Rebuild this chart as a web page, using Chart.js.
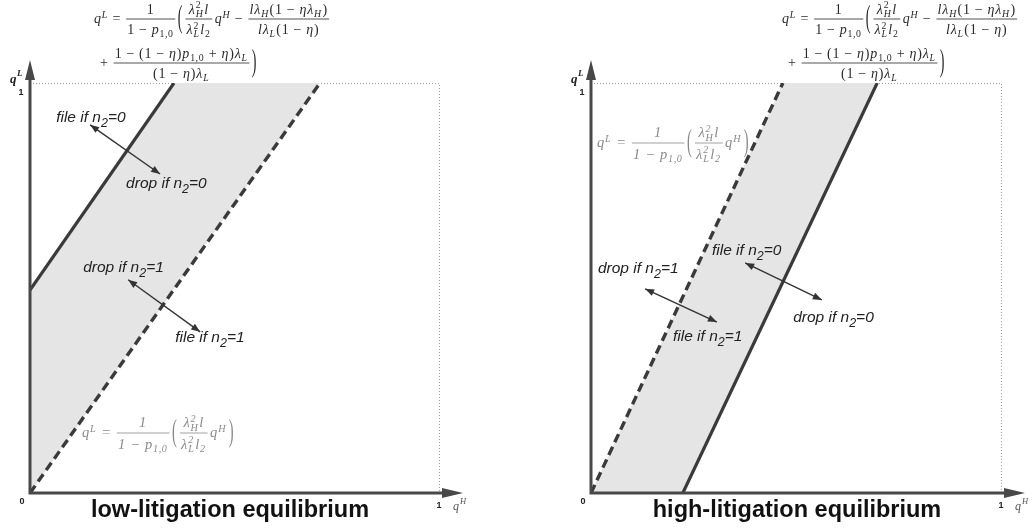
<!DOCTYPE html>
<html>
<head>
<meta charset="utf-8">
<script src="https://cdn.jsdelivr.net/npm/chart.js@4/dist/chart.umd.min.js"></script>
<style>
  body { margin: 0; background: #fff; }
  #wrap { display: flex; width: 1034px; height: 528px; }
  canvas { display: block; }
</style>
</head>
<body>
<div id="wrap">
  <canvas id="lowChart" width="517" height="528"></canvas>
  <canvas id="highChart" width="517" height="528"></canvas>
</div>
<script>
// valeurs (qH en x, qL en y)
const tickLabels = ['0', '1'];
const titles = ['low-litigation equilibrium', 'high-litigation equilibrium'];

const lowSolid = [{x: 0, y: 0.495}, {x: 0.352, y: 1}];
const lowDashed = [{x: 0, y: 0}, {x: 0.709, y: 1}];
const highDashed = [{x: 0, y: 0}, {x: 0.468, y: 1}];
const highSolid = [{x: 0.224, y: 0}, {x: 0.698, y: 1}];

const lowLabels = ['file if n_2=0', 'drop if n_2=0', 'drop if n_2=1', 'file if n_2=1'];
const highLabels = ['file if n_2=0', 'drop if n_2=1', 'drop if n_2=0', 'file if n_2=1'];

const LINE = '#3a3a3a';
const AXIS = '#484848';
const BAND = '#e5e5e5';
const SERIF = '"Liberation Serif", "DejaVu Serif", serif';
const SANS = '"Liberation Sans", Arial, sans-serif';

// ---- petit moteur de formules ----
function fnt(size, ital) {
    return (ital ? 'italic ' : '') + size + 'px ' + SERIF;
}

function glyphs(ctx, x, y, str, size, draw, allItal) {
    for (const c of str) {
        if (c === ' ') continue;
        const ital = allItal || /[A-Za-zλη]/.test(c);
        ctx.font = fnt(size, ital);
        const pad = (c === '=' || c === '−' || c === '+') ? size * 0.28 : 0;
        x += pad;
        if (draw) ctx.fillText(c, x, y);
        x += ctx.measureText(c).width + pad + size * 0.06;
    }
    return x;
}

function run(ctx, x, y, s, size, draw, allItal) {
    let i = 0;
    const grab = () => {
        let g;
        if (s[i] === '{') {
            const j = s.indexOf('}', i);
            g = s.slice(i + 1, j);
            i = j + 1;
        } else {
            g = s[i];
            i++;
        }
        return g;
    };
    while (i < s.length) {
        const c = s[i];
        if (c === '^' || c === '_') {
            const sc = {};
            while (i < s.length && (s[i] === '^' || s[i] === '_')) {
                const k = s[i];
                i++;
                sc[k] = grab();
            }
            let w = 0;
            if (sc['^'] != null) w = Math.max(w, glyphs(ctx, x, y - size * 0.38, sc['^'], size * 0.7, draw, allItal) - x);
            if (sc['_'] != null) w = Math.max(w, glyphs(ctx, x, y + size * 0.22, sc['_'], size * 0.7, draw, allItal) - x);
            x += w + size * 0.05;
            continue;
        }
        x = glyphs(ctx, x, y, c, size, draw, allItal);
        i++;
    }
    return x;
}

function frac(ctx, x, axis, num, den, size, allItal) {
    const wn = run(ctx, 0, 0, num, size, false, allItal);
    const wd = run(ctx, 0, 0, den, size, false, allItal);
    const w = Math.max(wn, wd) + size * 0.3;
    run(ctx, x + (w - wn) / 2, axis - size * 0.38, num, size, true, allItal);
    run(ctx, x + (w - wd) / 2, axis + size * 1.1, den, size, true, allItal);
    ctx.fillRect(x + 1, axis - 0.4, w - 2, 0.8);
    return x + w + size * 0.1;
}

function paren(ctx, x, axis, ch, size) {
    ctx.save();
    ctx.font = fnt(size, false);
    const w = ctx.measureText(ch).width;
    ctx.translate(x, axis);
    ctx.scale(1, 2.2);
    ctx.fillText(ch, 0, size * 0.25);
    ctx.restore();
    return x + w + size * 0.15;
}

function bigFormula(ctx, x0, axis, size) {
    ctx.fillStyle = '#2a2a2a';
    let x = run(ctx, x0, axis + size * 0.3, 'q^L=', size, true);
    x = frac(ctx, x, axis, '1', '1−p_{1,0}', size);
    x = paren(ctx, x, axis, '(', size);
    x = frac(ctx, x, axis, 'λ_H^2l', 'λ_L^2l_2', size);
    x = run(ctx, x, axis + size * 0.3, 'q^H−', size, true);
    frac(ctx, x, axis, 'lλ_H(1−ηλ_H)', 'lλ_L(1−η)', size);
    const a2 = axis + 44;
    x = run(ctx, x0 + 2, a2 + size * 0.3, '+', size, true);
    x = frac(ctx, x, a2, '1−(1−η)p_{1,0}+η)λ_L', '(1−η)λ_L', size);
    paren(ctx, x, a2, ')', size);
}

function grayFormula(ctx, x0, axis, size) {
    ctx.fillStyle = '#8a8a8a';
    let x = run(ctx, x0, axis + size * 0.3, 'q^L=', size, true, true);
    x = frac(ctx, x, axis, '1', '1−p_{1,0}', size, true);
    x = paren(ctx, x, axis, '(', size);
    x = frac(ctx, x, axis, 'λ_H^2l', 'λ_L^2l_2', size, true);
    x = run(ctx, x, axis + size * 0.3, 'q^H', size, true, true);
    paren(ctx, x + 2, axis, ')', size);
}

function arrow(ctx, x1, y1, x2, y2) {
    const a = Math.atan2(y2 - y1, x2 - x1);
    ctx.strokeStyle = '#333';
    ctx.fillStyle = '#333';
    ctx.lineWidth = 1.4;
    ctx.beginPath();
    ctx.moveTo(x1, y1);
    ctx.lineTo(x2, y2);
    ctx.stroke();
    [[x2, y2, a], [x1, y1, a + Math.PI]].forEach(([x, y, t]) => {
        ctx.beginPath();
        ctx.moveTo(x, y);
        ctx.lineTo(x - 9 * Math.cos(t) + 3.5 * Math.sin(t), y - 9 * Math.sin(t) - 3.5 * Math.cos(t));
        ctx.lineTo(x - 9 * Math.cos(t) - 3.5 * Math.sin(t), y - 9 * Math.sin(t) + 3.5 * Math.cos(t));
        ctx.closePath();
        ctx.fill();
    });
}

function label(ctx, x, y, txt) {
    const [pre, rest] = txt.split('_');
    ctx.fillStyle = '#222';
    ctx.font = 'italic 15.5px ' + SANS;
    ctx.fillText(pre, x, y);
    x += ctx.measureText(pre).width;
    ctx.font = 'italic 12.5px ' + SANS;
    ctx.fillText(rest[0], x, y + 5);
    x += ctx.measureText(rest[0]).width;
    ctx.font = 'italic 15.5px ' + SANS;
    ctx.fillText(rest.slice(1), x, y);
}

// ---- plugin de décor : axes fléchés, cadre pointillé, textes ----
const decor = {
    id: 'decor',
    beforeDatasetsDraw(chart) {
        const ctx = chart.ctx;
        const xs = chart.scales.x, ys = chart.scales.y;
        const l = xs.getPixelForValue(0), r = xs.getPixelForValue(1);
        const t = ys.getPixelForValue(1), b = ys.getPixelForValue(0);
        ctx.save();
        ctx.strokeStyle = '#a0a0a0';
        ctx.lineWidth = 1;
        ctx.setLineDash([1, 2]);
        ctx.beginPath();
        ctx.moveTo(l, t + 0.5);
        ctx.lineTo(r + 0.5, t + 0.5);
        ctx.lineTo(r + 0.5, b);
        ctx.stroke();
        ctx.restore();
    },
    afterDatasetsDraw(chart, args, opts) {
        const ctx = chart.ctx;
        const xs = chart.scales.x, ys = chart.scales.y;
        const l = xs.getPixelForValue(0), r = xs.getPixelForValue(1);
        const t = ys.getPixelForValue(1), b = ys.getPixelForValue(0);
        ctx.save();
        // axes
        ctx.strokeStyle = AXIS;
        ctx.fillStyle = AXIS;
        ctx.lineWidth = 3;
        ctx.beginPath();
        ctx.moveTo(l, b);
        ctx.lineTo(l, t - 8);
        ctx.moveTo(l - 1.5, b);
        ctx.lineTo(r + 8, b);
        ctx.stroke();
        ctx.beginPath();
        ctx.moveTo(l, t - 23);
        ctx.lineTo(l - 5, t - 3);
        ctx.lineTo(l + 5, t - 3);
        ctx.closePath();
        ctx.fill();
        ctx.beginPath();
        ctx.moveTo(r + 24, b);
        ctx.lineTo(r + 3, b - 5);
        ctx.lineTo(r + 3, b + 5);
        ctx.closePath();
        ctx.fill();

        // graduations
        ctx.fillStyle = '#222';
        ctx.font = 'bold 9px ' + SANS;
        ctx.textAlign = 'center';
        ctx.textBaseline = 'middle';
        ctx.fillText(tickLabels[0], l - 8, b + 9);
        ctx.fillText(tickLabels[1], l - 9, t + 10);
        ctx.fillText(tickLabels[1], r, b + 13);

        // noms des axes
        ctx.textAlign = 'left';
        ctx.textBaseline = 'alphabetic';
        ctx.font = 'bold italic 13px ' + SERIF;
        ctx.fillText('q', l - 20, t + 0);
        ctx.font = 'bold italic 9px ' + SERIF;
        ctx.fillText('L', l - 13, t - 7);
        ctx.fillStyle = '#555';
        ctx.font = 'italic 12px ' + SERIF;
        ctx.fillText('q', r + 14, b + 17);
        ctx.font = 'italic 8.5px ' + SERIF;
        ctx.fillText('H', r + 21, b + 11);

        // titre
        ctx.fillStyle = '#111';
        ctx.font = 'bold 23.5px ' + SANS;
        ctx.textAlign = 'center';
        ctx.fillText(opts.title, opts.titleX, b + 24);
        ctx.textAlign = 'left';

        // flèches et étiquettes
        opts.arrows.forEach(a => arrow(ctx,
            xs.getPixelForValue(a[0]), ys.getPixelForValue(a[1]),
            xs.getPixelForValue(a[2]), ys.getPixelForValue(a[3])));
        opts.labels.forEach((txt, i) => {
            const p = opts.labelPos[i];
            label(ctx, xs.getPixelForValue(p[0]), ys.getPixelForValue(p[1]), txt);
        });

        // formules
        bigFormula(ctx, opts.formula[0], opts.formula[1], 14);
        grayFormula(ctx, opts.gray[0], opts.gray[1], 14.5);
        ctx.restore();
    }
};

function makeChart(id, solid, dashed, padding, decorOpts) {
    const band = [solid[0], solid[1], dashed[1], dashed[0], solid[0]];
    const ctx = document.getElementById(id).getContext('2d');
    return new Chart(ctx, {
        type: 'scatter',
        data: {
            datasets: [
                {
                    data: band,
                    showLine: true,
                    fill: 'shape',
                    backgroundColor: BAND,
                    borderWidth: 0,
                    pointRadius: 0,
                    order: 3
                },
                {
                    data: solid,
                    showLine: true,
                    borderColor: LINE,
                    borderWidth: 3.2,
                    pointRadius: 0,
                    order: 1
                },
                {
                    data: dashed,
                    showLine: true,
                    borderColor: LINE,
                    borderWidth: 3.4,
                    borderDash: [9, 5],
                    pointRadius: 0,
                    order: 2
                }
            ]
        },
        options: {
            responsive: false,
            animation: false,
            layout: { padding: padding },
            scales: {
                x: { type: 'linear', min: 0, max: 1, display: false },
                y: { type: 'linear', min: 0, max: 1, display: false }
            },
            plugins: {
                legend: { display: false },
                tooltip: { enabled: false },
                decor: decorOpts
            }
        },
        plugins: [decor]
    });
}

makeChart('lowChart', lowSolid, lowDashed,
    { left: 30, right: 78, top: 83, bottom: 35 },
    {
        title: titles[0],
        titleX: 230,
        labels: lowLabels,
        labelPos: [[0.064, 0.905], [0.235, 0.744], [0.130, 0.539], [0.355, 0.368]],
        arrows: [[0.147, 0.898, 0.318, 0.778], [0.240, 0.520, 0.416, 0.393]],
        formula: [94, 19],
        gray: [82, 433]
    });

makeChart('highChart', highSolid, highDashed,
    { left: 74, right: 33, top: 83, bottom: 35 },
    {
        title: titles[1],
        titleX: 280,
        labels: highLabels,
        labelPos: [[0.295, 0.580], [0.017, 0.537], [0.493, 0.417], [0.200, 0.371]],
        arrows: [[0.376, 0.561, 0.563, 0.471], [0.132, 0.498, 0.307, 0.417]],
        formula: [265, 19],
        gray: [80, 143]
    });
</script>
</body>
</html>
